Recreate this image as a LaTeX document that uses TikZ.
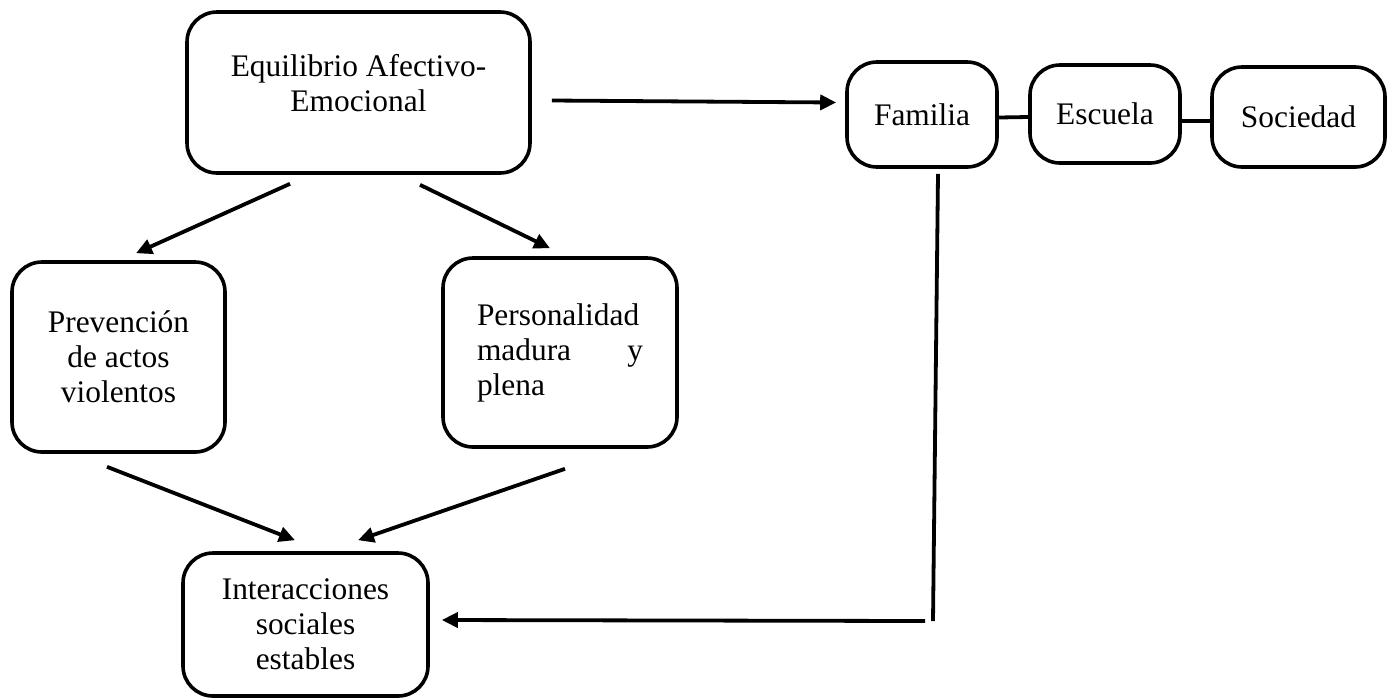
\documentclass[tikz,border=0pt]{standalone}
\usepackage{fontspec}
\setmainfont{Liberation Serif}
\usetikzlibrary{arrows.meta,calc}
\begin{document}
\begin{tikzpicture}[x=0.5pt,y=-0.5pt,
  txt/.style={font=\fontsize{15.7}{17.5}\selectfont},
  box/.style={draw, line width=1.8pt, rounded corners=15pt, align=center,
    txt, inner sep=0pt},
  arr/.style={line width=1.9pt, -{Triangle[length=8pt,width=7.5pt]}},
  ln/.style={line width=1.9pt}]
\useasboundingbox (0,0) rectangle (1397,698);
\node[box, minimum width=171.5pt, minimum height=80.5pt,
  label={[txt, align=center, yshift=4.5pt]center:Equilibrio Afectivo-\\Emocional}] (eq) at (358.5,92.5) {};
\node[box, minimum width=106.5pt, minimum height=95pt] (prev) at (118.5,357) {Prevención\\de actos\\violentos};
\node[box, minimum width=117pt, minimum height=94.5pt, text width=83pt, align=left] (pers) at (560,352.5) {Personalidad\\madura\hfill y\\plena};
\node[box, minimum width=122.5pt, minimum height=71.5pt] (inter) at (305.5,624.5) {Interacciones\\sociales\\estables};
\node[box, minimum width=75pt, minimum height=52.5pt] (fam) at (922,114.5) {Familia};
\node[box, minimum width=75pt, minimum height=49pt] (esc) at (1105,114) {Escuela};
\node[box, minimum width=86.5pt, minimum height=50pt] (soc) at (1298.5,117) {Sociedad};

\draw[arr] ($(eq.east)+(20,8)$) -- ($(fam.west)+(-9,-12)$);
\draw[arr] ($(eq.south)+(-68.5,9)$) -- ($(prev.north)+(17.5,-7)$);
\draw[arr] ($(eq.south)+(61.5,10)$) -- ($(pers.north)+(-10,-8)$);
\draw[arr] ($(prev.south)+(-11.5,13)$) -- ($(inter.north)+(-10.5,-11)$);
\draw[arr] ($(pers.south)+(5,20)$) -- ($(inter.north)+(52.5,-11)$);
\draw[ln] ($(fam.east)+(0,3)$) -- ($(esc.west)+(0,3)$);
\draw[ln] ($(esc.east)+(0,7)$) -- ($(soc.west)+(0,4)$);
\coordinate (corner) at (933,621);
\draw[ln] ($(fam.south)+(16,5)$) -- (corner);
\draw[arr] ($(corner)+(-8,0)$) -- ($(inter.east)+(12,-4.5)$);
\end{tikzpicture}
\end{document}
